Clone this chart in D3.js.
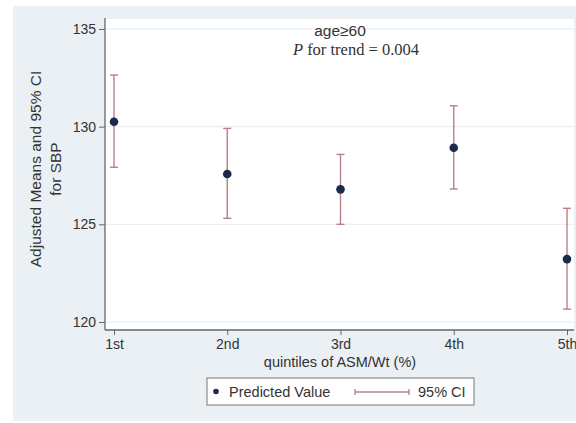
<!DOCTYPE html>
<html>
<head>
<meta charset="utf-8">
<script src="https://cdn.jsdelivr.net/npm/d3@7"></script>
<style>
  body { margin: 0; background: #fff; }
  text { font-family: "Liberation Sans", Arial, sans-serif; fill: #333; }
</style>
</head>
<body>
<div id="chart"></div>
<script>
const w = 576,
      h = 423;

const quintiles = ['1st', '2nd', '3rd', '4th', '5th'];
const means = [130.25, 127.58, 126.79, 128.92, 123.22];
const lower = [127.92, 125.31, 125.0, 126.81, 120.66];
const upper = [132.64, 129.91, 128.58, 131.07, 125.82];
const yTicks = [120, 125, 130, 135];

const data = quintiles.map((q, i) => ({ q, mean: means[i], lo: lower[i], hi: upper[i] }));

const plot = { left: 105, right: 574, top: 19, bottom: 330 };
const barColor = '#b98088';
const dotColor = '#1c2a4c';

const svg = d3.select('#chart')
  .append('svg')
  .attr('width', w)
  .attr('height', h);

// graph region
svg.append('rect')
  .attr('x', 13).attr('y', 6)
  .attr('width', w - 13).attr('height', 415)
  .attr('fill', '#eaf0f3');

svg.append('rect')
  .attr('x', plot.left).attr('y', plot.top)
  .attr('width', plot.right - plot.left).attr('height', plot.bottom - plot.top)
  .attr('fill', '#fff');

const xScale = d3.scalePoint()
  .domain(quintiles)
  .range([114, 567]);

const yScale = d3.scaleLinear()
  .domain([120, 135])
  .range([322, 29]);

// gridlines
svg.append('g')
  .selectAll('line')
  .data(yTicks)
  .enter()
  .append('line')
  .attr('x1', plot.left + 1)
  .attr('x2', plot.right)
  .attr('y1', d => yScale(d))
  .attr('y2', d => yScale(d))
  .attr('stroke', '#e5ebef')
  .attr('stroke-width', 1);

const yAxis = d3.axisLeft(yScale).tickValues(yTicks).tickSize(6).tickPadding(3);
const xAxis = d3.axisBottom(xScale).tickSize(5).tickPadding(4);

const gy = svg.append('g')
  .attr('transform', `translate(${plot.left}, 0)`)
  .call(yAxis);
gy.select('.domain').remove();
svg.append('line')
  .attr('x1', plot.left).attr('x2', plot.left)
  .attr('y1', plot.top - 1).attr('y2', plot.bottom)
  .attr('stroke', '#666').attr('stroke-width', 1.3);

const gx = svg.append('g')
  .attr('transform', `translate(0, ${plot.bottom})`)
  .call(xAxis);
gx.select('.domain').remove();
svg.append('line')
  .attr('x1', plot.left).attr('x2', plot.right)
  .attr('y1', plot.bottom).attr('y2', plot.bottom)
  .attr('stroke', '#666').attr('stroke-width', 1.3);

[gx, gy].forEach(g => {
  g.selectAll('.tick line').attr('stroke', '#666');
  g.selectAll('.tick text')
    .style('font-size', '14px')
    .attr('fill', '#333');
});

// error bars
const bars = svg.append('g')
  .selectAll('.ci')
  .data(data)
  .enter()
  .append('g')
  .attr('class', 'ci')
  .attr('stroke', barColor)
  .attr('stroke-width', 1.4);

bars.append('line')
  .attr('x1', d => xScale(d.q)).attr('x2', d => xScale(d.q))
  .attr('y1', d => yScale(d.hi)).attr('y2', d => yScale(d.lo));
bars.append('line')
  .attr('x1', d => xScale(d.q) - 4).attr('x2', d => xScale(d.q) + 4)
  .attr('y1', d => yScale(d.hi)).attr('y2', d => yScale(d.hi));
bars.append('line')
  .attr('x1', d => xScale(d.q) - 4).attr('x2', d => xScale(d.q) + 4)
  .attr('y1', d => yScale(d.lo)).attr('y2', d => yScale(d.lo));

svg.selectAll('.dot')
  .data(data)
  .enter()
  .append('circle')
  .attr('class', 'dot')
  .attr('cx', d => xScale(d.q))
  .attr('cy', d => yScale(d.mean))
  .attr('r', 4.3)
  .attr('fill', dotColor);

// axis titles
svg.append('text')
  .attr('x', 340).attr('y', 367)
  .attr('text-anchor', 'middle')
  .style('font-size', '14.5px')
  .text('quintiles of ASM/Wt (%)');

const yTitle = svg.append('text')
  .attr('transform', 'translate(41, 169) rotate(-90)')
  .attr('text-anchor', 'middle')
  .style('font-size', '15.5px');
yTitle.append('tspan').attr('x', 0).attr('dy', 0).text('Adjusted Means and 95% CI');
yTitle.append('tspan').attr('x', 0).attr('dy', 20).text('for SBP');

// annotation
svg.append('text')
  .attr('x', 340).attr('y', 36)
  .attr('text-anchor', 'middle')
  .style('font-size', '15.5px')
  .text('age≥60');

const ann = svg.append('text')
  .attr('x', 356).attr('y', 55)
  .attr('text-anchor', 'middle')
  .style('font-family', '"Liberation Serif", "Times New Roman", serif')
  .style('font-size', '16.5px');
ann.append('tspan').style('font-style', 'italic').text('P');
ann.append('tspan').text(' for trend = 0.004');

// legend
const legend = svg.append('g').attr('id', 'legend');
legend.append('rect')
  .attr('x', 207).attr('y', 378)
  .attr('width', 267).attr('height', 27)
  .attr('fill', '#fff')
  .attr('stroke', '#777')
  .attr('stroke-width', 1);
legend.append('circle')
  .attr('cx', 216).attr('cy', 391.5).attr('r', 2.8)
  .attr('fill', dotColor);
legend.append('text')
  .attr('x', 229).attr('y', 397)
  .style('font-size', '14.5px')
  .text('Predicted Value');
const lg = legend.append('g').attr('stroke', barColor).attr('stroke-width', 1.4);
lg.append('line').attr('x1', 355).attr('x2', 409).attr('y1', 392).attr('y2', 392);
lg.append('line').attr('x1', 355).attr('x2', 355).attr('y1', 389).attr('y2', 395);
lg.append('line').attr('x1', 409).attr('x2', 409).attr('y1', 389).attr('y2', 395);
legend.append('text')
  .attr('x', 418).attr('y', 397)
  .style('font-size', '14.5px')
  .text('95% CI');
</script>
</body>
</html>
